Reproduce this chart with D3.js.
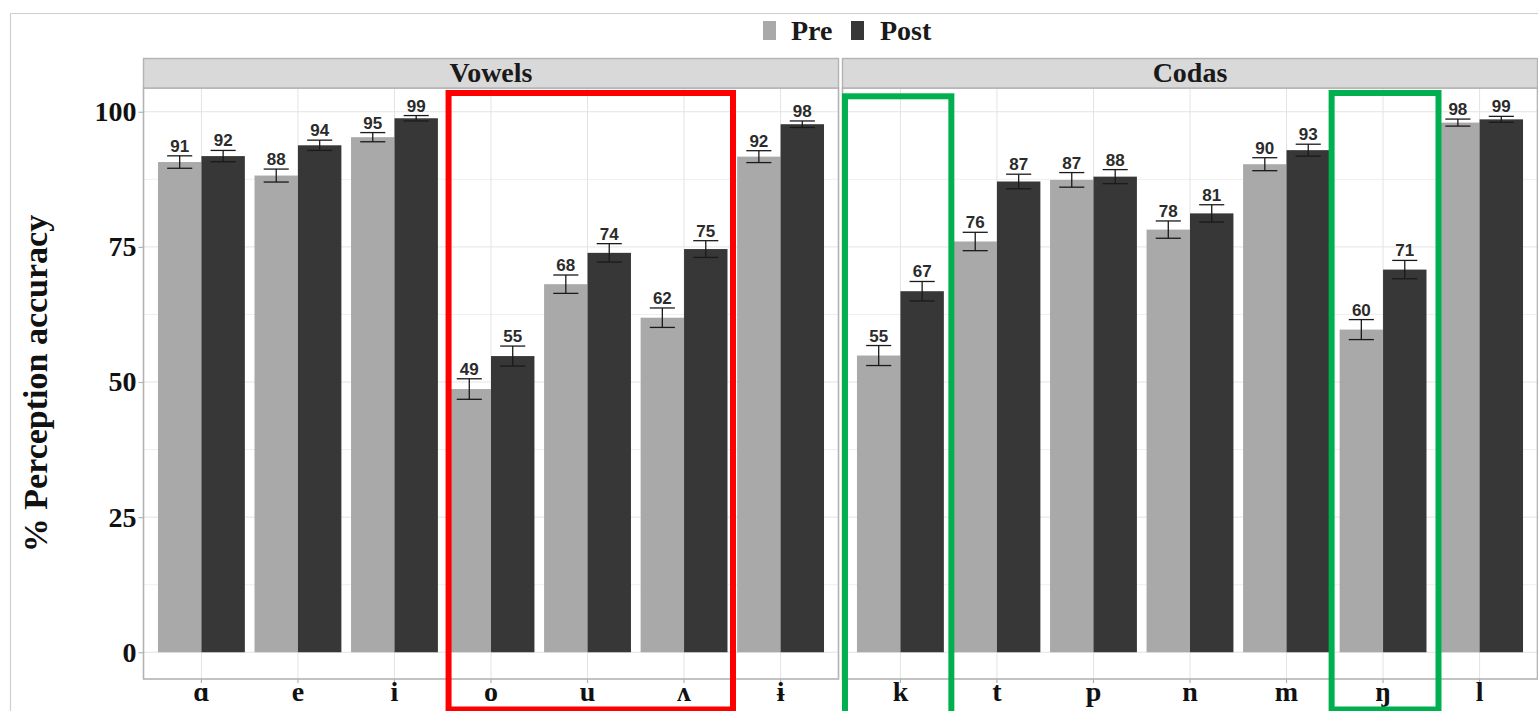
<!DOCTYPE html>
<html>
<head>
<meta charset="utf-8">
<script src="https://cdn.jsdelivr.net/npm/d3@7"></script>
<style>
  body { margin: 0; background: #fff; }
  svg { display: block; }
</style>
</head>
<body>
<div id="chart"></div>
<script>
// values
const vowels = ["ɑ", "e", "i", "o", "u", "ʌ", "ɨ"];
const codas = ["k", "t", "p", "n", "m", "ŋ", "l"];
const groups = ["Pre", "Post"];
const facets = ["Vowels", "Codas"];

const vowelPre = [90.7, 88.2, 95.3, 48.7, 68.1, 61.9, 91.7];
const vowelPost = [91.8, 93.8, 98.8, 54.8, 73.9, 74.6, 97.7];
const vowelPreSe = [1.15, 1.2, 0.85, 1.9, 1.7, 1.8, 1.1];
const vowelPostSe = [1.05, 0.95, 0.5, 1.85, 1.7, 1.55, 0.6];
const vowelPreLabels = ["91", "88", "95", "49", "68", "62", "92"];
const vowelPostLabels = ["92", "94", "99", "55", "74", "75", "98"];

const codaPre = [54.9, 76.0, 87.4, 78.2, 90.3, 59.7, 98.0];
const codaPost = [66.8, 87.1, 88.0, 81.2, 92.9, 70.8, 98.6];
const codaPreSe = [1.85, 1.7, 1.35, 1.6, 1.2, 1.85, 0.65];
const codaPostSe = [1.8, 1.35, 1.3, 1.6, 1.1, 1.7, 0.55];
const codaPreLabels = ["55", "76", "87", "78", "90", "60", "98"];
const codaPostLabels = ["67", "87", "88", "81", "93", "71", "99"];

const yTicks = [0, 25, 50, 75, 100];
const yMinor = [12.5, 37.5, 62.5, 87.5];

const colors = { Pre: "#a9a9a9", Post: "#373737" };

function rows(cats, pre, post, preSe, postSe, preLab, postLab) {
    let out = [];
    cats.forEach((c, i) => {
        out.push({ cat: c, grp: "Pre", v: pre[i], se: preSe[i], lab: preLab[i] });
        out.push({ cat: c, grp: "Post", v: post[i], se: postSe[i], lab: postLab[i] });
    });
    return out;
}

const panels = [
    { name: facets[0], cats: vowels, x0: 143.5,
      data: rows(vowels, vowelPre, vowelPost, vowelPreSe, vowelPostSe, vowelPreLabels, vowelPostLabels) },
    { name: facets[1], cats: codas, x0: 842.5,
      data: rows(codas, codaPre, codaPost, codaPreSe, codaPostSe, codaPreLabels, codaPostLabels) }
];

// highlight boxes drawn on top of the figure
const boxes = [
    { panel: 0, from: "o", to: "ʌ", color: "#ff0000", padL: -1, padR: 5.5, top: 93, bottom: 709.5 },
    { panel: 1, from: "k", to: "k", color: "#00b04f", padL: 12, padR: 7.5, top: 96.3, bottom: 730 },
    { panel: 1, from: "ŋ", to: "ŋ", color: "#00b04f", padL: 8, padR: 12, top: 93, bottom: 709.5 }
];

const W = 1538, H = 711;
const panelW = 695, panelTop = 88, panelBottom = 679, stripTop = 58.5;

const svg = d3.select("#chart").append("svg")
    .attr("width", W)
    .attr("height", H);

svg.append("rect").attr("width", W).attr("height", H).attr("fill", "#fff");

// outer frame of the original image
svg.append("path")
    .attr("d", `M10.5,${H + 5} V13.5 H${W + 5}`)
    .attr("fill", "none")
    .attr("stroke", "#cfcfcf")
    .attr("stroke-width", 1.2);

const y = d3.scaleLinear()
    .domain([-4.95, 104.4])
    .range([panelBottom, panelTop]);

const serif = "'Liberation Serif', 'Times New Roman', 'DejaVu Serif', serif";
const sans = "'Liberation Sans', Arial, sans-serif";

panels.forEach((p, pi) => {
    const x = d3.scaleBand()
        .domain(p.cats)
        .range([p.x0, p.x0 + panelW])
        .paddingInner(0.1)
        .paddingOuter(0.15);
    const xs = d3.scaleBand()
        .domain(groups)
        .range([0, x.bandwidth()]);
    p.x = x;

    const g = svg.append("g");

    // grid
    g.selectAll(".ymin").data(yMinor).join("line")
        .attr("x1", p.x0).attr("x2", p.x0 + panelW)
        .attr("y1", d => y(d)).attr("y2", d => y(d))
        .attr("stroke", "#efefef").attr("stroke-width", 1);
    g.selectAll(".ymaj").data(yTicks).join("line")
        .attr("x1", p.x0).attr("x2", p.x0 + panelW)
        .attr("y1", d => y(d)).attr("y2", d => y(d))
        .attr("stroke", "#e3e3e3").attr("stroke-width", 1);
    g.selectAll(".xmaj").data(p.cats).join("line")
        .attr("x1", d => x(d) + x.bandwidth() / 2).attr("x2", d => x(d) + x.bandwidth() / 2)
        .attr("y1", panelTop).attr("y2", panelBottom)
        .attr("stroke", "#e3e3e3").attr("stroke-width", 1);

    // bars
    g.selectAll(".bar").data(p.data).join("rect")
        .attr("x", d => x(d.cat) + xs(d.grp))
        .attr("y", d => y(d.v))
        .attr("width", xs.bandwidth())
        .attr("height", d => y(0) - y(d.v))
        .attr("fill", d => colors[d.grp]);

    // error bars
    const capW = x.step() * 0.26;
    const eb = g.selectAll(".eb").data(p.data).join("g")
        .attr("transform", d => `translate(${x(d.cat) + xs(d.grp) + xs.bandwidth() / 2},0)`);
    eb.append("line")
        .attr("y1", d => y(d.v + d.se)).attr("y2", d => y(d.v - d.se))
        .attr("stroke", "#1a1a1a").attr("stroke-width", 1.3);
    eb.append("line")
        .attr("x1", -capW / 2).attr("x2", capW / 2)
        .attr("y1", d => y(d.v + d.se)).attr("y2", d => y(d.v + d.se))
        .attr("stroke", "#1a1a1a").attr("stroke-width", 1.3);
    eb.append("line")
        .attr("x1", -capW / 2).attr("x2", capW / 2)
        .attr("y1", d => y(d.v - d.se)).attr("y2", d => y(d.v - d.se))
        .attr("stroke", "#1a1a1a").attr("stroke-width", 1.3);

    // value labels
    g.selectAll(".lab").data(p.data).join("text")
        .attr("x", d => x(d.cat) + xs(d.grp) + xs.bandwidth() / 2)
        .attr("y", d => y(d.v + d.se) - 4)
        .attr("text-anchor", "middle")
        .attr("font-family", sans)
        .attr("font-weight", "bold")
        .attr("font-size", 17)
        .attr("fill", "#2b2b2b")
        .text(d => d.lab);

    // panel border
    g.append("rect")
        .attr("x", p.x0).attr("y", panelTop)
        .attr("width", panelW).attr("height", panelBottom - panelTop)
        .attr("fill", "none")
        .attr("stroke", "#b3b3b3").attr("stroke-width", 1.6);

    // strip
    g.append("rect")
        .attr("x", p.x0).attr("y", stripTop)
        .attr("width", panelW).attr("height", panelTop - stripTop)
        .attr("fill", "#d9d9d9")
        .attr("stroke", "#b3b3b3").attr("stroke-width", 1.4);
    g.append("text")
        .attr("x", p.x0 + panelW / 2)
        .attr("y", 82)
        .attr("text-anchor", "middle")
        .attr("font-family", serif)
        .attr("font-weight", "bold")
        .attr("font-size", 28)
        .attr("fill", "#1a1a1a")
        .text(p.name);

    // x axis
    const xAxis = g.append("g")
        .attr("transform", `translate(0,${panelBottom})`)
        .call(d3.axisBottom(x).tickSize(4).tickPadding(4));
    xAxis.select(".domain").remove();
    xAxis.selectAll("line").attr("stroke", "#b3b3b3").attr("stroke-width", 1.2);
    xAxis.selectAll("text")
        .attr("font-family", serif)
        .attr("font-weight", "bold")
        .attr("font-size", 28)
        .attr("fill", "#111")
        .attr("y", 22)
        .attr("dy", 0);

    // y axis only on the first panel
    if (pi === 0) {
        const yAxis = g.append("g")
            .attr("transform", `translate(${p.x0},0)`)
            .call(d3.axisLeft(y).tickValues(yTicks).tickSize(5).tickPadding(2));
        yAxis.select(".domain").remove();
        yAxis.selectAll("line").attr("stroke", "#b3b3b3").attr("stroke-width", 1.2);
        yAxis.selectAll("text")
            .attr("font-family", serif)
            .attr("font-weight", "bold")
            .attr("font-size", 28)
            .attr("fill", "#111");
    }
});

// y title
svg.append("text")
    .attr("transform", `translate(47,${(panelTop + panelBottom) / 2}) rotate(-90)`)
    .attr("text-anchor", "middle")
    .attr("font-family", serif)
    .attr("font-weight", "bold")
    .attr("font-size", 34)
    .attr("fill", "#111")
    .text("% Perception accuracy");

// legend
const legend = svg.append("g").attr("transform", "translate(763,0)");
const legendItems = [
    { grp: "Pre", kx: 0, tx: 28 },
    { grp: "Post", kx: 88, tx: 117 }
];
legendItems.forEach(it => {
    legend.append("rect")
        .attr("x", it.kx).attr("y", 21)
        .attr("width", 13).attr("height", 19)
        .attr("fill", colors[it.grp]);
    legend.append("text")
        .attr("x", it.tx).attr("y", 40)
        .attr("font-family", serif)
        .attr("font-weight", "bold")
        .attr("font-size", 28)
        .attr("fill", "#1a1a1a")
        .text(it.grp);
});

// highlight boxes
boxes.forEach(b => {
    const x = panels[b.panel].x;
    const left = x(b.from) - b.padL;
    const right = x(b.to) + x.bandwidth() + b.padR;
    svg.append("rect")
        .attr("x", left).attr("y", b.top)
        .attr("width", right - left).attr("height", b.bottom - b.top)
        .attr("fill", "none")
        .attr("stroke", b.color)
        .attr("stroke-width", 6);
});
</script>
</body>
</html>
